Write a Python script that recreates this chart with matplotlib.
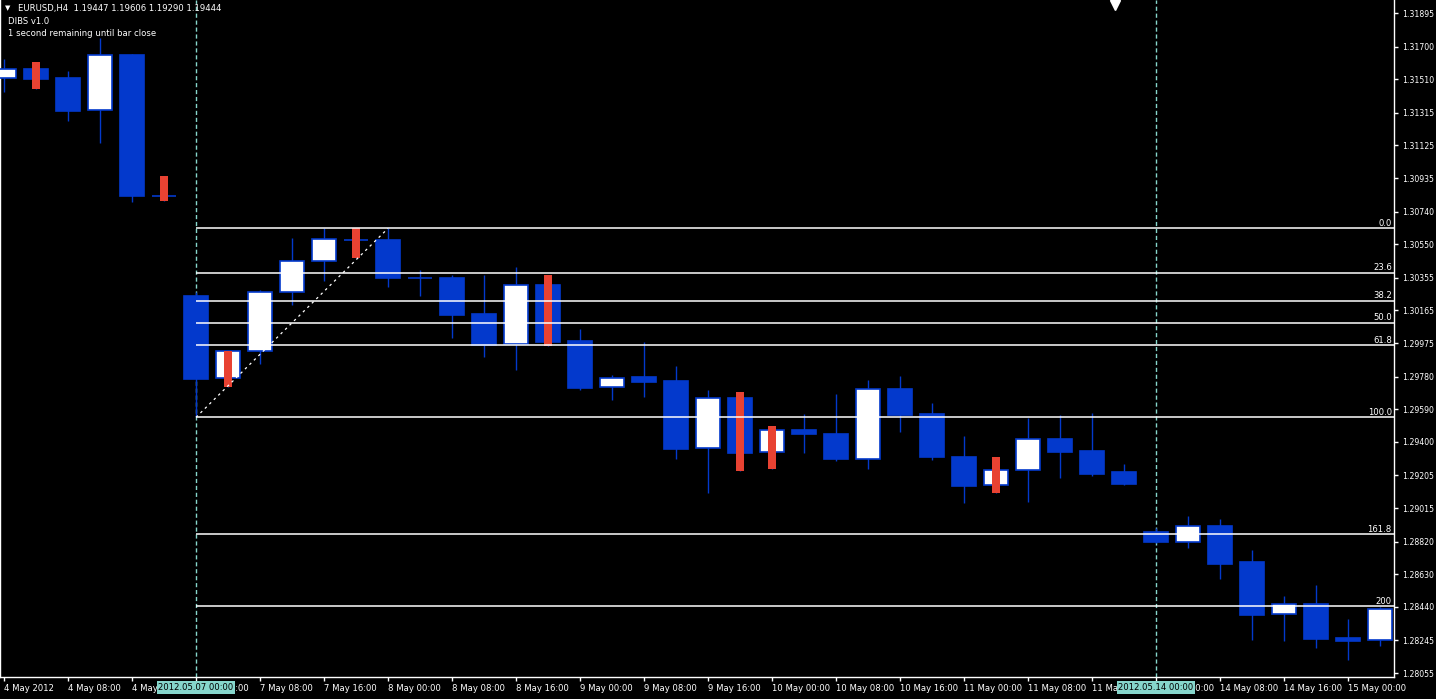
import matplotlib
matplotlib.use('Agg')
import matplotlib.pyplot as plt
import matplotlib.transforms as mtransforms
from matplotlib import font_manager
import numpy as np

# EURUSD H4 candles, 4 May 2012 00:00 .. 15 May 2012 04:00
opens = [1.31517, 1.31569, 1.31517, 1.31329, 1.31651, 1.30832, 1.30249, 1.29771, 1.29929, 1.30270,
         1.30450, 1.30577, 1.30574, 1.30356, 1.30353, 1.30144, 1.29968, 1.30313, 1.29987, 1.29717,
         1.29777, 1.29754, 1.29362, 1.29655, 1.29339, 1.29469, 1.29446, 1.29302, 1.29708, 1.29562,
         1.29310, 1.29147, 1.29236, 1.29415, 1.29347, 1.29225, 1.28874, 1.28819, 1.28912, 1.28701,
         1.28397, 1.28456, 1.28259, 1.28245]
highs = [1.31627, 1.31610, 1.31558, 1.31750, 1.31656, 1.30947, 1.30272, 1.29929, 1.30283, 1.30586,
         1.30642, 1.30642, 1.30642, 1.30400, 1.30371, 1.30371, 1.30415, 1.30371, 1.30057, 1.29789,
         1.29979, 1.29841, 1.29702, 1.29690, 1.29492, 1.29562, 1.29678, 1.29760, 1.29783, 1.29628,
         1.29434, 1.29310, 1.29537, 1.29556, 1.29566, 1.29271, 1.28899, 1.28968, 1.28951, 1.28771,
         1.28503, 1.28567, 1.28369, 1.28437]
lows = [1.31435, 1.31453, 1.31267, 1.31139, 1.30795, 1.30801, 1.29543, 1.29719, 1.29853, 1.30196,
        1.30336, 1.30471, 1.30303, 1.30250, 1.30006, 1.29895, 1.29818, 1.29959, 1.29702, 1.29643,
        1.29659, 1.29300, 1.29101, 1.29232, 1.29242, 1.29337, 1.29290, 1.29244, 1.29459, 1.29294,
        1.29042, 1.29104, 1.29048, 1.29188, 1.29201, 1.29149, 1.28811, 1.28784, 1.28602, 1.28247,
        1.28243, 1.28202, 1.28131, 1.28214]
closes = [1.31569, 1.31513, 1.31327, 1.31651, 1.30830, 1.30829, 1.29767, 1.29929, 1.30270, 1.30450,
          1.30578, 1.30573, 1.30355, 1.30353, 1.30138, 1.29963, 1.30311, 1.29983, 1.29715, 1.29770,
          1.29750, 1.29360, 1.29653, 1.29337, 1.29467, 1.29447, 1.29300, 1.29706, 1.29558, 1.29314,
          1.29145, 1.29234, 1.29415, 1.29343, 1.29215, 1.29156, 1.28819, 1.28909, 1.28691, 1.28394,
          1.28455, 1.28255, 1.28243, 1.28427]

# bars flagged by the DIBS indicator (red)
dibs_bars = [1, 5, 7, 11, 17, 23, 24, 31]

# fibonacci retracement
fib_start, fib_end = 6, 12
fib_low, fib_high = 1.29543, 1.30642
fib_ratios = [0.0, 0.236, 0.382, 0.5, 0.618, 1.0, 1.618, 2.0]
fib_labels = ['0.0', '23.6', '38.2', '50.0', '61.8', '100.0', '161.8', '200']

time_labels = ['4 May 2012', '4 May 08:00', '4 May 16:00', '7 May 00:00', '7 May 08:00',
               '7 May 16:00', '8 May 00:00', '8 May 08:00', '8 May 16:00', '9 May 00:00',
               '9 May 08:00', '9 May 16:00', '10 May 00:00', '10 May 08:00', '10 May 16:00',
               '11 May 00:00', '11 May 08:00', '11 May 16:00', '14 May 00:00', '14 May 08:00',
               '14 May 16:00', '15 May 00:00']
price_labels = ['1.31895', '1.31700', '1.31510', '1.31315', '1.31125', '1.30935', '1.30740',
                '1.30550', '1.30355', '1.30165', '1.29975', '1.29780', '1.29590', '1.29400',
                '1.29205', '1.29015', '1.28820', '1.28630', '1.28440', '1.28245', '1.28055']

# vertical separators with date boxes
period_lines = [6, 36]
period_boxes = ['2012.05.07 00:00', '2012.05.14 00:00']

blue = '#0339CC'
red = '#E84232'
teal = '#86D6CC'
fs = 6.1

# narrow face for the price scale if it is there
names = {f.name for f in font_manager.fontManager.ttflist}
narrow = 'Liberation Sans Narrow' if 'Liberation Sans Narrow' in names else None

fig = plt.figure(figsize=(14.36, 6.99), dpi=100, facecolor='black')
ax = fig.add_axes([0, 22 / 699, 1394 / 1436, 677 / 699])
ax.set_facecolor('black')

o = np.array(opens)
h = np.array(highs)
l = np.array(lows)
c = np.array(closes)
x = np.arange(len(o))
up = c >= o

ax.vlines(x, l, h, color=blue, lw=1, zorder=2)
bottoms = np.minimum(o, c)
heights = np.abs(c - o)
ax.bar(x[up], heights[up], bottom=bottoms[up], width=0.72, color='white',
       edgecolor=blue, linewidth=1.2, zorder=3)
ax.bar(x[~up], heights[~up], bottom=bottoms[~up], width=0.72, color=blue,
       edgecolor=blue, linewidth=1.2, zorder=3)

d = np.array(dibs_bars)
ax.bar(d, h[d] - l[d], bottom=l[d], width=0.28, color=red, linewidth=0, zorder=4)

# fibonacci levels
xmin, xmax = -0.125, 43.4375
for r, lab in zip(fib_ratios, fib_labels):
    lvl = fib_high - r * (fib_high - fib_low)
    ax.hlines(lvl, fib_start, xmax, color='white', lw=1.1, zorder=5)
    ax.text(xmax - 0.07, lvl + 0.00003, lab, color='white', fontsize=fs,
            ha='right', va='bottom', zorder=6)
ax.plot([fib_start, fib_end], [fib_low, fib_high], color='white', lw=0.9,
        ls=(0, (2, 3)), zorder=5)

trans = mtransforms.blended_transform_factory(ax.transData, ax.transAxes)
for px, lab in zip(period_lines, period_boxes):
    ax.axvline(px, color=teal, lw=1, ls=(0, (3, 2)), zorder=1)
    ax.text(px, -0.0155, lab, transform=trans, ha='center', va='center', fontsize=fs,
            color='black', zorder=20, clip_on=False,
            bbox=dict(boxstyle='square,pad=0.2', fc=teal, ec='none'))

# chart shift marker
ax.plot([34.72], [0.992], transform=trans, marker='v', color='white', ms=7, clip_on=False, zorder=10)

ax.set_xlim(xmin, xmax)
ax.set_ylim(1.28032, 1.31971)

ax.set_xticks(np.arange(0, len(o), 2))
ax.set_xticklabels(time_labels, ha='left')
ax.set_yticks([float(p) for p in price_labels])
ax.set_yticklabels(price_labels)
ax.yaxis.tick_right()
ax.tick_params(colors='white', labelsize=fs, length=3, width=1)
ax.tick_params(axis='x', pad=2)
ax.tick_params(axis='y', pad=3)
for t in ax.get_yticklabels():
    if narrow:
        t.set_fontfamily(narrow)
        t.set_fontsize(7.2)
    else:
        t.set_fontsize(5.6)
for s in ax.spines.values():
    s.set_color('white')
    s.set_linewidth(1)
ax.spines['top'].set_visible(False)

fig.text(8 / 1436, 1 - 8 / 699, '\u25bc', color='white', fontsize=5, ha='center', va='center')
fig.text(18 / 1436, 1 - 8 / 699, 'EURUSD,H4  1.19447 1.19606 1.19290 1.19444',
         color='white', fontsize=fs, va='center')
fig.text(8 / 1436, 1 - 21 / 699, 'DIBS v1.0', color='white', fontsize=fs, va='center')
fig.text(8 / 1436, 1 - 34 / 699, '1 second remaining until bar close', color='white',
         fontsize=fs, va='center')

fig.savefig('out.png', dpi=100, facecolor='black')
